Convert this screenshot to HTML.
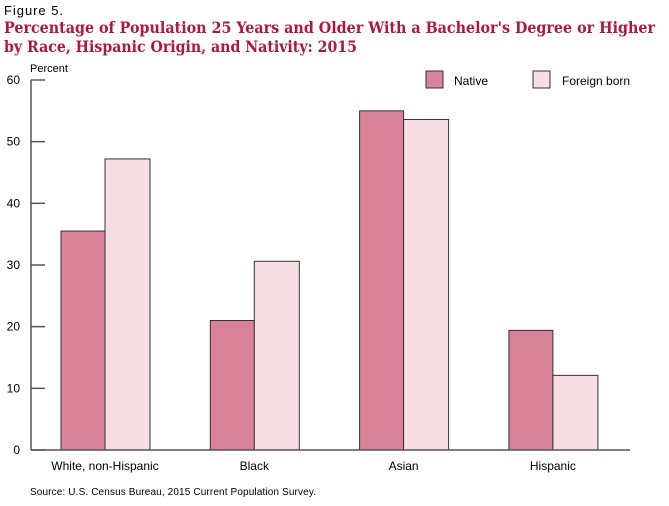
<!DOCTYPE html>
<html><head><style>
body{margin:0;background:#fff;width:669px;height:501px;overflow:hidden;font-family:"Liberation Sans",sans-serif;}
</style></head><body>
<svg width="669" height="501" xmlns="http://www.w3.org/2000/svg" font-family="Liberation Sans, sans-serif">
<text x="4" y="15" font-size="13" textLength="59" fill="#000">Figure 5.</text>
<text x="4" y="33" font-size="16" font-weight="bold" fill="#b0173a" font-family="DejaVu Serif, serif" textLength="651" lengthAdjust="spacingAndGlyphs">Percentage of Population 25 Years and Older With a Bachelor's Degree or Higher</text>
<text x="4" y="52" font-size="16" font-weight="bold" fill="#b0173a" font-family="DejaVu Serif, serif" textLength="353" lengthAdjust="spacingAndGlyphs">by Race, Hispanic Origin, and Nativity: 2015</text>
<text x="30" y="72" font-size="11">Percent</text>
<g id="legend">
<rect x="426" y="71" width="17" height="17" fill="#d8839a" stroke="#333"/>
<text x="454" y="85" font-size="12">Native</text>
<rect x="533" y="71" width="17" height="17" fill="#f5dde3" stroke="#333"/>
<text x="562" y="85" font-size="12">Foreign born</text>
</g>
<g id="plot"></g>
<text x="30" y="495" font-size="10" textLength="286">Source: U.S. Census Bureau, 2015 Current Population Survey.</text>
</svg>
<script>
const categories=["White, non-Hispanic","Black","Asian","Hispanic"];
const nativeVals=[35.5,21.0,55.0,19.4];
const foreignVals=[47.2,30.6,53.6,12.1];
const yTicks=[0,10,20,30,40,50,60];
const NS="http://www.w3.org/2000/svg";
const g=document.getElementById('plot');
const y=v=>450-v*(370/60);
const cx=i=>105+i*149.3;
function mk(t,a){const e=document.createElementNS(NS,t);for(const k in a)e.setAttribute(k,a[k]);g.appendChild(e);return e;}
yTicks.forEach(v=>{
 const l=mk('line',{x1:31,x2:45,y1:y(v),y2:y(v),stroke:'#555','stroke-width':1.5});
 
 
 const t=mk('text',{x:20,y:y(v)+4,'font-size':12,'text-anchor':'end'});t.textContent=v;
 
 
});
categories.forEach((c,i)=>{
 const b1=mk('rect',{x:cx(i)-44,y:y(nativeVals[i]),width:44,height:450-y(nativeVals[i]),fill:'#d8839a',stroke:'#333'});
 
 
 const b2=mk('rect',{x:cx(i),y:y(foreignVals[i]),width:45,height:450-y(foreignVals[i]),fill:'#f5dde3',stroke:'#333'});
 
 
 const t=mk('text',{x:cx(i),y:470,'font-size':12,'text-anchor':'middle'});t.textContent=c;
 
 
});
const ax=mk('line',{x1:31,x2:31,y1:y(60),y2:450,stroke:'#555','stroke-width':1.5});


const bx=mk('line',{x1:31,x2:630,y1:450,y2:450,stroke:'#555','stroke-width':1.5});


</script>
</body></html>
